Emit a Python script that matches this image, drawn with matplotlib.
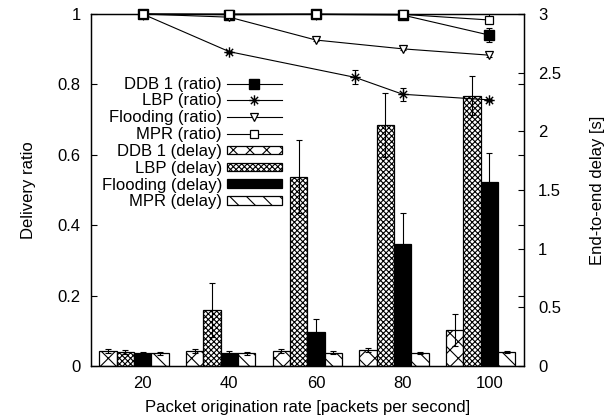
import numpy as np
import matplotlib
matplotlib.use("Agg")
import matplotlib.pyplot as plt
from matplotlib.path import Path
from matplotlib.patches import Patch
from matplotlib.lines import Line2D

plt.rcParams['font.family'] = ['Liberation Sans', 'DejaVu Sans']
plt.rcParams['hatch.linewidth'] = 0.8

# ---------------- data ----------------
rates = [20, 40, 60, 80, 100]
xtick_labels = ['20', '40', '60', '80', '100']

ddb_ratio = [1.0, 0.998, 0.999, 0.997, 0.940]
ddb_ratio_err = [0.0, 0.0, 0.0, 0.002, 0.020]
lbp_x = [20, 40, 69, 80, 100]
lbp_ratio = [1.0, 0.893, 0.820, 0.772, 0.756]
lbp_ratio_err = [0.0, 0.003, 0.020, 0.019, 0.003]
flood_ratio = [1.0, 0.991, 0.926, 0.901, 0.883]
flood_ratio_err = [0.0, 0.002, 0.004, 0.003, 0.006]
mpr_ratio = [1.0, 1.0, 1.0, 0.999, 0.983]
mpr_ratio_err = [0.0, 0.0, 0.0, 0.001, 0.007]

ddb_delay = [0.125, 0.125, 0.128, 0.135, 0.305]
ddb_delay_err = [0.017, 0.017, 0.017, 0.017, 0.136]
lbp_delay = [0.120, 0.477, 1.613, 2.054, 2.304]
lbp_delay_err = [0.015, 0.233, 0.310, 0.270, 0.168]
flood_delay = [0.113, 0.113, 0.292, 1.040, 1.568]
flood_delay_err = [0.010, 0.015, 0.110, 0.260, 0.250]
mpr_delay = [0.110, 0.110, 0.113, 0.113, 0.119]
mpr_delay_err = [0.012, 0.012, 0.012, 0.010, 0.010]

# ---------------- figure ----------------
fig = plt.figure(figsize=(6.08, 4.18), dpi=100)
ax = fig.add_axes([0.149, 0.1244, 0.713, 0.8421])
ax2 = ax.twinx()
ax.set_zorder(ax2.get_zorder() + 1)
ax.patch.set_visible(False)

FS = 12
bw = 4.0
offsets = [-8, -4, 0, 4]
x = np.array(rates, dtype=float)
bar_specs = [
    (ddb_delay, ddb_delay_err, 'white', 'xx', 'DDB 1 (delay)'),
    (lbp_delay, lbp_delay_err, 'white', 'xxxxxx', 'LBP (delay)'),
    (flood_delay, flood_delay_err, 'black', None, 'Flooding (delay)'),
    (mpr_delay, mpr_delay_err, 'white', '\\\\', 'MPR (delay)'),
]
bar_handles = []
for (vals, errs, fc, hatch, lab), off in zip(bar_specs, offsets):
    ax2.bar(x + off, vals, width=bw, color=fc, edgecolor='black',
            hatch=hatch, linewidth=0.9, zorder=2)
    ax2.errorbar(x + off, vals, yerr=errs, fmt='none', ecolor='black',
                 elinewidth=0.8, capsize=2.5, capthick=0.8, zorder=3)
    bar_handles.append(Patch(facecolor=fc, edgecolor='black', hatch=hatch,
                             linewidth=0.9, label=lab))

# asterisk marker (plus + cross)
ast = Path([(-1, 0), (1, 0), (0, -1), (0, 1), (-0.7, -0.7), (0.7, 0.7),
            (-0.7, 0.7), (0.7, -0.7)],
           [Path.MOVETO, Path.LINETO] * 4)

line_specs = [
    (rates, ddb_ratio, ddb_ratio_err, dict(marker='s', ms=6.5, mfc='black', mec='black'), 'DDB 1 (ratio)'),
    (lbp_x, lbp_ratio, lbp_ratio_err, dict(marker=ast, ms=7.5, mfc='black', mec='black', mew=1.0), 'LBP (ratio)'),
    (rates, flood_ratio, flood_ratio_err, dict(marker='v', ms=5.5, mfc='white', mec='black', mew=0.9), 'Flooding (ratio)'),
    (rates, mpr_ratio, mpr_ratio_err, dict(marker='s', ms=5.5, mfc='white', mec='black', mew=0.9), 'MPR (ratio)'),
]
line_handles = []
for xs, ys, es, mk, lab in line_specs:
    ax.errorbar(xs, ys, yerr=es, fmt='none', ecolor='black', elinewidth=0.8,
                capsize=2.5, capthick=0.8, zorder=3)
    ax.plot(xs, ys, color='black', lw=0.8, zorder=4, clip_on=False, **mk)
    line_handles.append(Line2D([], [], color='black', lw=0.8, label=lab, **mk))

ax.set_xlim(8, 108)
ax.set_ylim(0, 1)
ax2.set_ylim(0, 3)
ax.set_xticks(rates)
ax.set_xticklabels(xtick_labels)
ax.set_yticks([0, 0.2, 0.4, 0.6, 0.8, 1])
ax.set_yticklabels(['0', '0.2', '0.4', '0.6', '0.8', '1'])
ax2.set_yticks([0, 0.5, 1, 1.5, 2, 2.5, 3])
ax2.set_yticklabels(['0', '0.5', '1', '1.5', '2', '2.5', '3'])

ax.tick_params(axis='y', direction='in', length=4, width=0.8, right=True,
               labelright=False, pad=7, labelsize=FS)
ax.tick_params(axis='x', direction='in', length=4, width=0.8, top=True,
               pad=7, labelsize=FS)
ax2.tick_params(axis='y', direction='in', length=4, width=0.8, pad=10,
                labelsize=FS)
for a in (ax, ax2):
    for s in a.spines.values():
        s.set_linewidth(0.9)

ax.set_xlabel('Packet origination rate [packets per second]', fontsize=FS, labelpad=7)
ax.set_ylabel('Delivery ratio', fontsize=FS, labelpad=16)
ax2.set_ylabel('End-to-end delay [s]', fontsize=FS, labelpad=21)

leg = ax.legend(handles=line_handles + bar_handles, loc='upper right',
                bbox_to_anchor=(0.4415, 0.822), frameon=False, fontsize=FS,
                markerfirst=False, handlelength=3.3, handleheight=0.42,
                handletextpad=0.3, labelspacing=0.11, borderpad=0,
                borderaxespad=0)
for t in leg.get_texts():
    t.set_ha('right')

fig.savefig('out.png', dpi=100)
